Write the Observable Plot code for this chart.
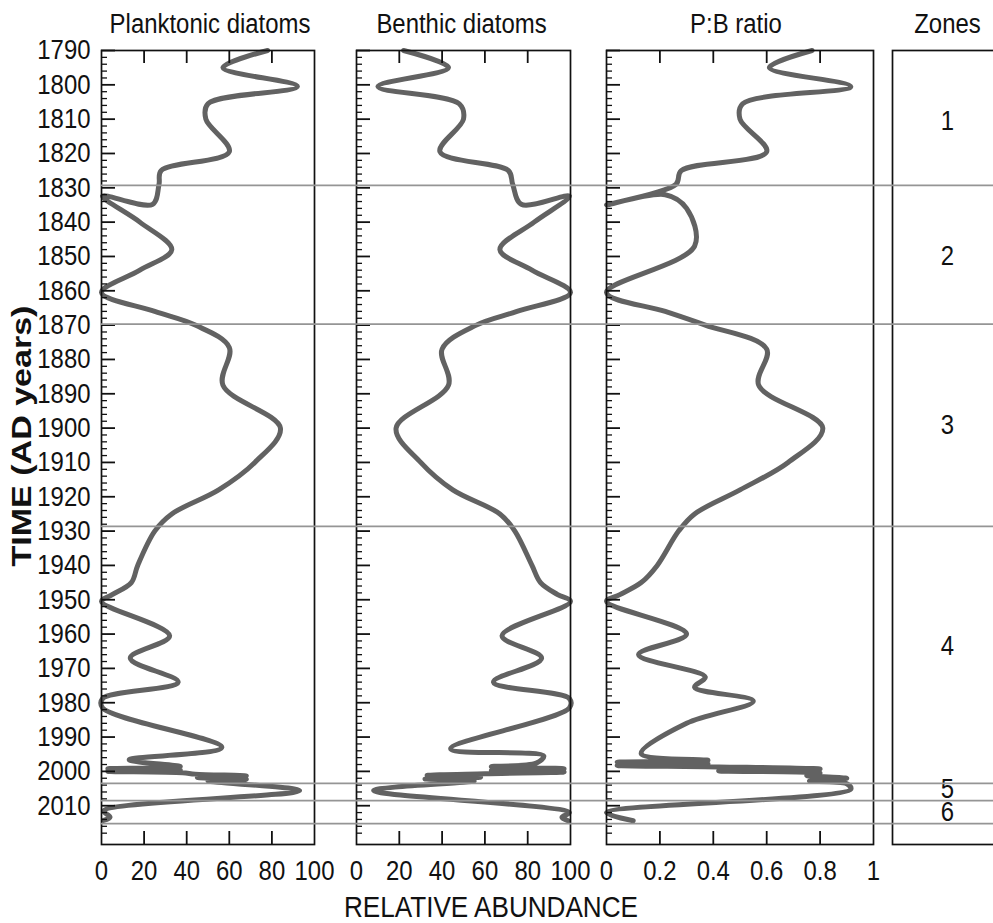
<!DOCTYPE html>
<html><head><meta charset="utf-8">
<script src="https://cdn.jsdelivr.net/npm/d3@7"></script>
<script src="https://cdn.jsdelivr.net/npm/@observablehq/plot@0.6"></script>
<style>
html,body{margin:0;padding:0;background:#fff;overflow:hidden;}
#chart{position:relative;width:993px;height:923px;overflow:hidden;background:#fff;}
#chart svg{position:absolute;top:0;}
.lbl{position:absolute;white-space:nowrap;color:#111;line-height:1;}
</style></head><body><div id="chart"></div>
<script>
// ---------- data ----------
const yearTicks = [1790,1800,1810,1820,1830,1840,1850,1860,1870,1880,1890,1900,1910,1920,1930,1940,1950,1960,1970,1980,1990,2000,2010];
const pctTicks = [0,20,40,60,80,100];
const pctTickLabels = ["0","20","40","60","80","100"];
const ratioTicks = [0,0.2,0.4,0.6,0.8,1];
const ratioTickLabels = ["0","0.2","0.4","0.6","0.8","1"];
const panelTitles = ["Planktonic diatoms","Benthic diatoms","P:B ratio","Zones"];
const zoneBounds = [1829.3, 1869.7, 1928.6, 2003.5, 2008.5, 2015.2];
const zoneNames = ["1","2","3","4","5","6"];
const zoneLabelYears = [1811, 1850.5, 1899.5, 1964, 2005.6, 2012.4];

const plankYears = [1790,1795,1800.5,1805.5,1810,1819.5,1825,1829,1834.8,1832.4,1840,1848,1854,1860.5,1866,1870,1876.5,1887.5,1900,1910,1918,1925,1930,1940,1945,1948.5,1950.5,1960.5,1967,1974,1978.8,1981.5,1993,1996.6,1998.6,1999.2,1999.6,2000.0,2000.4,2000.8,2001.3,2001.8,2002.3,2002.8,2005.6,2011.5,2013.3,2014.3];
const plankValues = [78,57,92,50,49,60,28,27,24,0.5,18,33,18,0,25,44,60,57,84,72,55,33,25,17,14,5,0,32,13.5,36,0.5,0.5,56.5,13,37,3,37,3,38,44,68,45,68,50,93,1,4,1];

const benthicYears = [1790,1795,1800.5,1805.5,1810,1819.5,1825,1829,1834.8,1832.4,1840,1848,1854,1860.5,1866,1870,1877,1887.5,1900,1910,1918,1925,1930,1940,1945,1948.5,1950.5,1960.5,1967,1974,1978.8,1981.5,1993.4,1995.5,1997.6,1998.6,1999.2,1999.7,2000.2,2000.7,2001.2,2001.7,2002.2,2002.8,2005.6,2012,2013.4,2014.4];
const benthicValues = [22,43,10,48,50,39,71,73,77,99.5,83,67,82,100,75,56,40,43,18.5,30,45,67,74,82,86,94,100,68,86.5,64,99.5,99.5,44,87.5,84,63,97,63,97,60,33,58,32,55,8,99.5,96,99];

const ratioYears = [1790,1795,1800.5,1805.5,1810,1819.5,1825,1829,1835,1832,1836,1847,1860.5,1866,1870,1877,1887.5,1900,1910,1918,1925,1930,1940,1945,1948.5,1950.5,1960,1966,1972.5,1975.5,1979.5,1986,1994.8,1996.8,1997.3,1997.8,1998.3,1998.7,1999.3,1999.9,2000.5,2001.2,2002,2002.8,2003.6,2005.2,2012,2014.4];
const ratioValues = [0.77,0.61,0.915,0.51,0.50,0.60,0.28,0.26,0.0,0.22,0.3,0.33,0.0,0.22,0.37,0.6,0.57,0.81,0.68,0.5,0.33,0.27,0.19,0.13,0.05,0.0,0.3,0.12,0.37,0.33,0.55,0.3,0.13,0.38,0.04,0.38,0.04,0.42,0.8,0.42,0.8,0.75,0.9,0.76,0.9,0.915,0.0,0.1];

// ---------- layout ----------
const FONT = "'Liberation Sans',Arial,sans-serif";
const FS = 28;            // font size of tick labels / titles
const SQUEEZE = 0.855;    // horizontal compression of the reference's lettering
const H = 923, MT = 50, MB = 79;
const Y_DOMAIN = [1790, 2021.3];
const plotH = H - MT - MB;
const INK = "#111";
const minorYears = d3.range(1792, 2021, 2).filter(y => y % 10 !== 0);
const rowsOf = (ys, vs) => ys.map((y, i) => ({year: y, v: vs[i]}));

const chart = document.getElementById("chart");

function squeezeText(svg) {
  svg.querySelectorAll("text").forEach(t => {
    t.setAttribute("transform", (t.getAttribute("transform") || "") + ` scale(${SQUEEZE},1)`);
  });
}

function makePanel(cfg) {
  const marks = [];
  if (cfg.rows) marks.push(Plot.line(cfg.rows, {x: "v", y: "year", curve: "catmull-rom", stroke: "#626262", strokeWidth: 5, strokeLinejoin: "round", strokeLinecap: "round"}));
  if (cfg.yTicks) {
    marks.push(Plot.tickY(minorYears, {y: d => d, insetRight: cfg.width - 6, stroke: INK, strokeWidth: 1.3}));
    marks.push(Plot.tickY(yearTicks, {y: d => d, insetRight: cfg.width - 14, stroke: INK, strokeWidth: 1.8}));
  }
  if (cfg.ticks) {
    const inner = cfg.ticks.slice(1, -1);
    marks.push(Plot.tickX(inner, {x: d => d, insetTop: plotH - 13, stroke: INK, strokeWidth: 1.8}));
    marks.push(Plot.tickX(inner, {x: d => d, insetBottom: plotH - 13, stroke: INK, strokeWidth: 1.8}));
    marks.push(Plot.axisX(cfg.ticks, {anchor: "bottom", label: null, tickSize: 0, tickPadding: 16, fontSize: FS, fill: INK,
      tickFormat: d => cfg.labels[cfg.ticks.indexOf(d)]}));
  }
  if (cfg.yLabels) {
    marks.push(Plot.axisY(yearTicks, {anchor: "left", label: null, tickSize: 0, tickPadding: 11, fontSize: FS, fill: INK, tickFormat: d => String(d)}));
  }
  if (cfg.zones) {
    marks.push(Plot.text(zoneNames, {y: (d, i) => zoneLabelYears[i], text: d => d, fontSize: FS, fill: INK, lineHeight: 0.8}));
  }
  marks.push(Plot.frame({stroke: INK, strokeWidth: 1.7}));
  marks.push(Plot.text([cfg.title], {frameAnchor: "top", lineAnchor: "bottom", dy: -18, dx: cfg.titleDx || 0, fontSize: FS, fill: INK}));
  const svg = Plot.plot({
    width: cfg.ml + cfg.width + cfg.mr,
    height: H,
    marginTop: MT, marginBottom: MB, marginLeft: cfg.ml, marginRight: cfg.mr,
    x: {domain: cfg.xDomain, axis: null},
    y: {domain: Y_DOMAIN, reverse: true, axis: null},
    style: {fontFamily: FONT, fontSize: FS + "px", color: INK, background: "transparent", overflow: "visible"},
    marks
  });
  squeezeText(svg);
  svg.style.left = (cfg.left - cfg.ml) + "px";
  chart.appendChild(svg);
}

makePanel({left: 101, width: 213, ml: 101, mr: 30, xDomain: [0, 100], rows: rowsOf(plankYears, plankValues),
  ticks: pctTicks, labels: pctTickLabels, yTicks: true, yLabels: true, title: panelTitles[0], titleDx: 2});
makePanel({left: 356, width: 214, ml: 30, mr: 30, xDomain: [0, 100], rows: rowsOf(benthicYears, benthicValues),
  ticks: pctTicks, labels: pctTickLabels, yTicks: true, title: panelTitles[1], titleDx: -2});
makePanel({left: 606, width: 267, ml: 30, mr: 30, xDomain: [0, 1], rows: rowsOf(ratioYears, ratioValues),
  ticks: ratioTicks, labels: ratioTickLabels, yTicks: true, title: panelTitles[2], titleDx: -4});
makePanel({left: 892, width: 110, ml: 10, mr: 0, xDomain: [0, 1], zones: true, title: panelTitles[3]});

// zone boundary lines across all panels
const overlay = Plot.plot({
  width: 993, height: H, marginTop: MT, marginBottom: MB, marginLeft: 101, marginRight: 0,
  x: {axis: null}, y: {domain: Y_DOMAIN, reverse: true, axis: null},
  style: {background: "transparent", overflow: "visible"},
  marks: [Plot.ruleY(zoneBounds, {stroke: "#959595", strokeWidth: 1.7})]
});
overlay.style.left = "0px";
chart.appendChild(overlay);

// axis titles
const xt = document.createElement("div");
xt.className = "lbl";
xt.textContent = "RELATIVE ABUNDANCE";
Object.assign(xt.style, {fontFamily: FONT, fontSize: "29px", left: "491px", top: "893px", transform: "translateX(-50%) scaleX(0.9)"});
chart.appendChild(xt);

const yt = document.createElement("div");
yt.className = "lbl";
yt.textContent = "TIME (AD years)";
Object.assign(yt.style, {fontFamily: FONT, fontWeight: "bold", fontSize: "27px", left: "22px", top: "436px", transform: "translate(-50%,-50%) rotate(-90deg) scaleX(1.26)"});
chart.appendChild(yt);
</script>
</body></html>
